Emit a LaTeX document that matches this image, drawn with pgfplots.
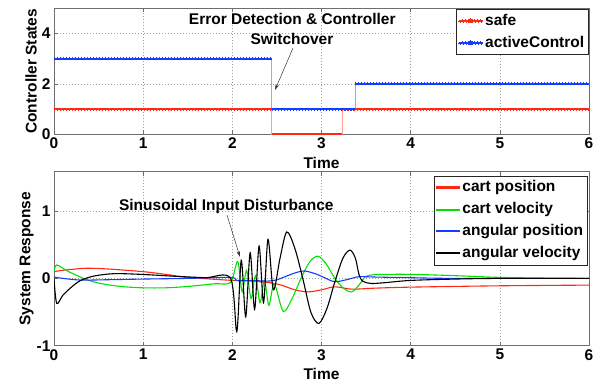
\documentclass[border=0pt]{standalone}
\usepackage{fontspec}
\setmainfont{Liberation Sans}
\usepackage{pgfplots}
\usepackage{pgfplotstable}
\pgfplotsset{compat=1.18}
\usetikzlibrary{arrows.meta}
\definecolor{cred}{RGB}{255,40,20}
\definecolor{cgreen}{RGB}{0,225,0}
\definecolor{cblue}{RGB}{20,60,255}
\definecolor{frame}{RGB}{110,110,110}
\newcommand\ff{\fontsize{15.5}{18}\selectfont\bfseries}

\pgfplotstableread{
t y
0 1
2.44 0
3.23 1
6 1
}\safetab
\pgfplotstableread{
t y
0 3
2.44 1
3.38 2
6 2
}\activetab

\pgfplotstableread{
t y
0 0.1
0.1 0.12
0.35 0.15
0.6 0.14
1.0 0.1
1.25 0.06
1.5 0.015
2.0 -0.03
2.2 -0.04
2.4 -0.06
2.55 -0.1
2.7 -0.17
2.85 -0.2
3.0 -0.17
3.15 -0.125
3.34 -0.16
3.6 -0.145
4.0 -0.13
5.0 -0.11
6.0 -0.1
}\cartpos
\pgfplotstableread{
t y
0 0.1
0.03 0.2
0.15 0.11
0.33 0.0
0.5 -0.07
0.75 -0.12
1.0 -0.14
1.25 -0.14
1.5 -0.12
1.8 -0.08
1.98 -0.06
2.06 0.25
2.11 -0.2
2.16 0.12
2.21 -0.3
2.26 0.04
2.31 -0.36
2.36 -0.03
2.41 -0.40
2.47 -0.08
2.57 -0.49
2.67 -0.3
2.77 0.0
2.87 0.25
2.96 0.33
3.05 0.22
3.15 0.0
3.25 -0.15
3.34 -0.2
3.42 -0.1
3.49 0.02
3.6 0.055
4.0 0.06
4.5 0.04
5.0 0.015
5.5 0.005
6.0 0
}\cartvel
\pgfplotstableread{
t y
0 0.02
0.1 0.0
0.3 -0.025
0.6 -0.02
1.0 -0.01
1.5 0.0
1.98 0.015
2.05 -0.03
2.2 -0.03
2.4 -0.04
2.5 -0.02
2.6 0.03
2.7 0.08
2.81 0.11
2.95 0.06
3.05 0.0
3.15 -0.05
3.28 -0.02
3.42 0.025
3.6 0.02
4.0 0.01
4.5 0.0
6.0 0.0
}\angpos
\pgfplotstableread{
t y
0 0
0.03 -0.37
0.1 -0.25
0.2 -0.125
0.3 -0.03
0.45 0.035
0.67 0.07
0.97 0.06
1.38 0.03
1.7 0.01
1.98 0.0
2.05 -0.79
2.10 0.27
2.15 -0.57
2.20 0.38
2.25 -0.46
2.30 0.48
2.35 -0.36
2.40 0.58
2.46 -0.17
2.535 0.3
2.61 0.69
2.70 0.45
2.79 0.0
2.88 -0.5
2.97 -0.67
3.06 -0.45
3.15 -0.05
3.24 0.3
3.32 0.42
3.38 0.3
3.42 0.06
3.46 -0.04
3.55 -0.075
3.7 -0.065
4.0 -0.03
4.5 -0.01
5.0 0
6.0 0
}\angvel

\pgfplotsset{
  common/.style={
    scale only axis, width=535pt, xmin=0, xmax=6,
    xtick={0,...,6},
    grid=major,
    grid style={gray!75, line width=0.5pt, dash pattern=on 1pt off 2pt},
    axis line style={frame, line width=0.8pt},
    tick style={frame, line width=0.6pt},
    tick align=inside, major tick length=4pt,
    ticklabel style={font=\ff},
    /pgf/number format/assume math mode=true,
    label style={font=\ff},
    xlabel={Time},
    xlabel style={at={(axis description cs:0.5,0)}, anchor=center, yshift=-28.3pt},
    legend cell align=left,
    legend style={font=\ff, draw=black!85, line width=0.6pt, inner xsep=2pt, inner ysep=0.5pt, row sep=0pt, column sep=0pt,
      nodes={text height=11.3pt, text depth=3.3pt, inner ysep=3.7pt, inner xsep=2pt}},
  },
}

\begin{document}
\begin{tikzpicture}
\useasboundingbox (0pt,0pt) rectangle (600pt,383pt);
\begin{axis}[common, at={(54pt,248.7pt)}, anchor=south west, height=126pt,
  ymin=0, ymax=5, ytick={0,2,4},
  ylabel={Controller States},
  ylabel style={at={(axis description cs:-0.043,0.5)}, anchor=center},
  legend style={at={(1,1)}, anchor=north east, xshift=-0.5pt, yshift=-1pt}]
\addplot[cred!45, line width=0.8pt, const plot mark left, forget plot] table {\safetab};
\addplot[cblue!45, line width=0.8pt, const plot mark left, forget plot] table {\activetab};
\addplot[cred, line width=1.9pt, jump mark left,
  postaction={draw, line width=2.9pt, dash pattern=on 0.6pt off 2.4pt},
  legend image code/.code={\fill[fill=cred!80] (0pt,-0.4pt) rectangle (22pt,0.4pt); \fill[fill=cred] (10pt,-1.2pt) rectangle (12pt,1.2pt);}]
  table {\safetab};
\addlegendentry{safe}
\addplot[cblue, line width=1.9pt, jump mark left,
  postaction={draw, line width=2.9pt, dash pattern=on 0.6pt off 2.4pt},
  legend image code/.code={\fill[fill=cblue!80] (0pt,-0.4pt) rectangle (22pt,0.4pt); \fill[fill=cblue] (10pt,-1.2pt) rectangle (12pt,1.2pt);}]
  table {\activetab};
\addlegendentry{activeControl}
\end{axis}

\begin{axis}[common, at={(54pt,37.3pt)}, anchor=south west, height=174pt,
  ymin=-1, ymax=1.585, ytick={-1,0,1}, yticklabels={-1,0,1},
  ylabel={System Response},
  ylabel style={at={(axis description cs:-0.0514,0.5)}, anchor=center},
  legend style={at={(1,1)}, anchor=north east, xshift=-1.7pt, yshift=-4pt}]
\addplot[cred, line width=1.1pt, smooth,
  legend image code/.code={\fill[fill=cred] (0pt,-0.45pt) rectangle (23pt,0.45pt);}] table {\cartpos};
\addlegendentry{cart position}
\addplot[cgreen, line width=1.1pt, smooth,
  legend image code/.code={\fill[fill=cgreen] (0pt,-0.45pt) rectangle (23pt,0.45pt);}] table {\cartvel};
\addlegendentry{cart velocity}
\addplot[cblue, line width=1.1pt, smooth,
  legend image code/.code={\fill[fill=cblue] (0pt,-0.45pt) rectangle (23pt,0.45pt);}] table {\angpos};
\addlegendentry{angular position}
\addplot[black, line width=1.1pt, smooth,
  legend image code/.code={\fill[fill=black] (0pt,-0.45pt) rectangle (23pt,0.45pt);}] table {\angvel};
\addlegendentry{angular velocity}
\end{axis}

\node[font=\ff, anchor=base, inner sep=0pt] at (292.3pt,358pt) {Error Detection \& Controller};
\node[font=\ff, anchor=base, inner sep=0pt] at (292pt,338.7pt) {Switchover};
\draw[-{Stealth[length=6pt,width=3.5pt]}, black!80, line width=0.5pt] (293pt,335pt) -- (275pt,293pt);
\node[font=\ff, anchor=base, inner sep=0pt] at (226.3pt,172.3pt) {Sinusoidal Input Disturbance};
\draw[-{Stealth[length=6pt,width=3.5pt]}, black!80, line width=0.5pt] (227pt,168pt) -- (240pt,126pt);
\end{tikzpicture}
\end{document}
